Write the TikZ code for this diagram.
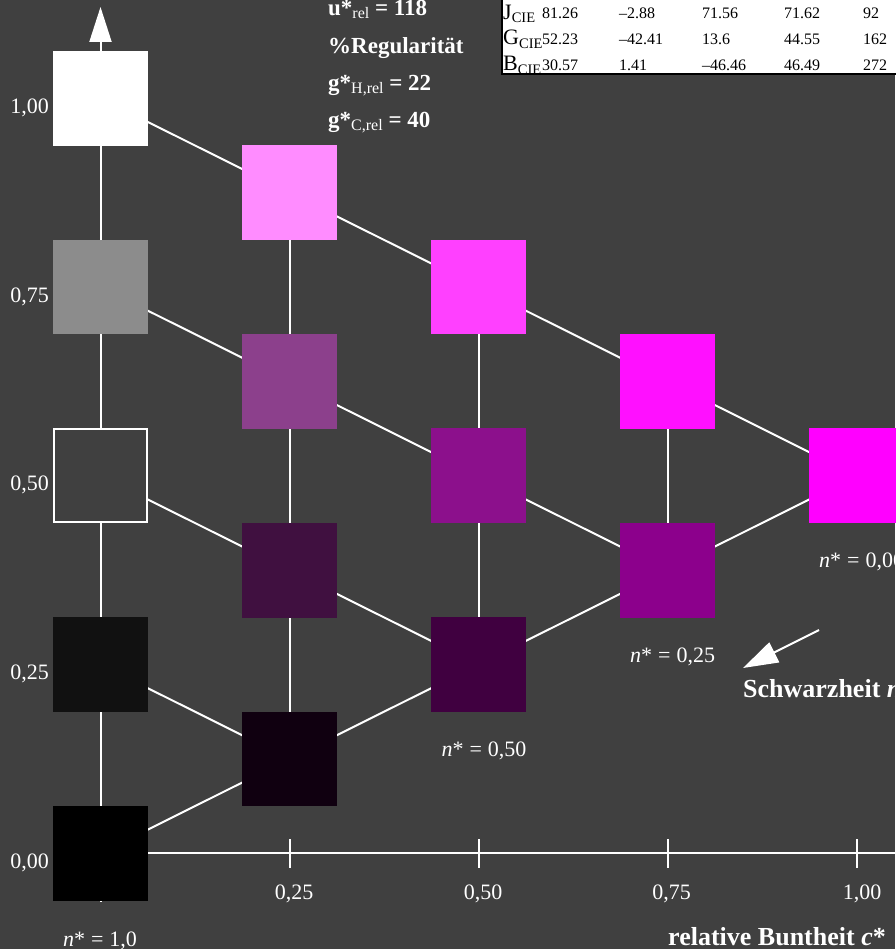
\documentclass[tikz,border=0pt]{standalone}
\usepackage{fontspec}
\setmainfont{Liberation Serif}
\usetikzlibrary{arrows.meta}
\pgfdeclarelayer{bglayer}
\pgfdeclarelayer{linelayer}
\pgfsetlayers{bglayer,linelayer,main}
\definecolor{bgc}{HTML}{404040}
\definecolor{k01}{HTML}{8C8C8C}
\definecolor{k03}{HTML}{111111}
\definecolor{k04}{HTML}{000000}
\definecolor{k10}{HTML}{FF8CFF}
\definecolor{k11}{HTML}{8C408C}
\definecolor{k12}{HTML}{401040}
\definecolor{k13}{HTML}{100010}
\definecolor{k20}{HTML}{FF40FF}
\definecolor{k21}{HTML}{8C108C}
\definecolor{k22}{HTML}{400040}
\definecolor{k30}{HTML}{FF10FF}
\definecolor{k31}{HTML}{8C008C}
\definecolor{k40}{HTML}{FF00FF}
\newcommand{\fsz}[1]{\fontsize{#1}{#1}\selectfont}
\newcommand{\lowsub}[1]{\raisebox{-3pt}{\fsz{16}\mdseries #1}}
\newcommand{\tabsub}[1]{\raisebox{-3.5pt}{\fsz{14.5}#1}}
\newcommand{\nstar}[1]{{\itshape n}*\hspace{6pt}=\hspace{6pt}#1}
\begin{document}
\begin{tikzpicture}[x=1pt,y=-1pt,
  sq/.style={rectangle, minimum size=94.7pt, inner sep=0pt, draw=none},
  wl/.style={white, line width=2pt},
  lab/.style={text=white, inner sep=0pt, font=\fsz{22}},
  blab/.style={text=white, inner sep=0pt, font=\fsz{26}\bfseries},
  tlab/.style={text=white, inner sep=0pt, font=\fsz{23}\bfseries, anchor=base west},
  tv/.style={text=black, inner sep=0pt, font=\fsz{16}, anchor=base west},
  tl/.style={text=black, inner sep=0pt, font=\fsz{22}, anchor=base west},
  bigtip/.style={-{Triangle[length=35pt,width=22pt]}}
]
\useasboundingbox (0,0) rectangle (895,949);
\begin{pgfonlayer}{bglayer}
  \fill[bgc] (0,0) rectangle (895,949);
\end{pgfonlayer}

% colour squares
\node[sq, fill=white] (n00) at (100.5,98.3) {};
\node[sq, fill=k01] (n01) at (100.5,287.05) {};
\node[sq, fill=bgc, draw=white, line width=2pt, minimum size=93pt] (n02) at (100.5,475.8) {};
\node[sq, fill=k03] (n03) at (100.5,664.55) {};
\node[sq, fill=k04] (n04) at (100.5,853.3) {};
\node[sq, fill=k10] (n10) at (289.5,192.7) {};
\node[sq, fill=k11] (n11) at (289.5,381.4) {};
\node[sq, fill=k12] (n12) at (289.5,570.2) {};
\node[sq, fill=k13] (n13) at (289.5,758.9) {};
\node[sq, fill=k20] (n20) at (478.5,287.05) {};
\node[sq, fill=k21] (n21) at (478.5,475.8) {};
\node[sq, fill=k22] (n22) at (478.5,664.55) {};
\node[sq, fill=k30] (n30) at (667.5,381.4) {};
\node[sq, fill=k31] (n31) at (667.5,570.2) {};
\node[sq, fill=k40] (n40) at (856.5,475.8) {};

% axis coordinates
\coordinate (ybot) at (100.5,902);
\coordinate (ytop) at (100.5,7);
\coordinate (xend) at (905,853.3);
\coordinate (t1a) at (289.5,839); \coordinate (t1b) at (289.5,868);
\coordinate (t2a) at (478.5,839); \coordinate (t2b) at (478.5,868);
\coordinate (t3a) at (667.5,839); \coordinate (t3b) at (667.5,868);
\coordinate (t4a) at (856.5,839); \coordinate (t4b) at (856.5,868);
\coordinate (sa) at (819,630);
\coordinate (sb) at (743,668);

\begin{pgfonlayer}{linelayer}
  \draw[wl, bigtip] (ybot) -- (ytop);
  \draw[wl] (n04.center) -- (xend);
  \draw[wl] (t1a) -- (t1b);
  \draw[wl] (t2a) -- (t2b);
  \draw[wl] (t3a) -- (t3b);
  \draw[wl] (t4a) -- (t4b);
  \draw[wl] (n10.center) -- (n13.center);
  \draw[wl] (n20.center) -- (n22.center);
  \draw[wl] (n30.center) -- (n31.center);
  \draw[wl] (n00.center) -- (n10.center) -- (n20.center) -- (n30.center) -- (n40.center);
  \draw[wl] (n01.center) -- (n11.center) -- (n21.center) -- (n31.center);
  \draw[wl] (n02.center) -- (n12.center) -- (n22.center);
  \draw[wl] (n03.center) -- (n13.center);
  \draw[wl] (n04.center) -- (n13.center) -- (n22.center) -- (n31.center) -- (n40.center);
\end{pgfonlayer}
\draw[wl, bigtip] (sa) -- (sb);

% axis labels
\node[lab, anchor=base east] (y100) at (49,113.3) {1,00};
\node[lab, anchor=base east] (y075) at (49,302) {0,75};
\node[lab, anchor=base east] (y050) at (49,490.8) {0,50};
\node[lab, anchor=base east] (y025) at (49,679.5) {0,25};
\node[lab, anchor=base east] (y000) at (49,868.3) {0,00};
\node[lab, anchor=base] (x025) at (294,899) {0,25};
\node[lab, anchor=base] (x050) at (483,899) {0,50};
\node[lab, anchor=base] (x075) at (671.5,899) {0,75};
\node[lab, anchor=base] (x100) at (862,899) {1,00};

\node[lab, anchor=base] (m10) at (100,946) {\nstar{1,0}};
\node[lab, anchor=base] (m050) at (484,756) {\nstar{0,50}};
\node[lab, anchor=base west] (m025) at (630,662) {\nstar{0,25}};
\node[lab, anchor=base west] (m000) at (819,567) {\nstar{0,00}};

\node[blab, anchor=base west] (schw) at (743,697) {Schwarzheit \textit{n}*};
\node[blab, anchor=base west] (bunt) at (668,945) {relative Buntheit \textit{c}*};

% top-left texts
\node[tlab] (u1) at (328,16) {u*\lowsub{rel} = 118};
\node[tlab] (u2) at (328,54) {\%Regularität};
\node[tlab] (u3) at (328,91) {g*\lowsub{H,rel} = 22};
\node[tlab] (u4) at (328,128) {g*\lowsub{C,rel} = 40};

% table
\fill[white] (502,-5) rectangle (900,74);
\draw[black, line width=1.5pt] (502,-5) -- (502,74) -- (900,74);
\node[tl] (lj) at (503,19.5) {J\tabsub{CIE}};
\node[tl] (lg) at (503,45) {G\tabsub{CIE}};
\node[tl] (lb) at (503,71) {B\tabsub{CIE}};
\node[tv] (j1) at (542,19) {81.26};
\node[tv] (j2) at (619,19) {–2.88};
\node[tv] (j3) at (702,19) {71.56};
\node[tv] (j4) at (784,19) {71.62};
\node[tv] (j5) at (863,19) {92};
\node[tv] (g1) at (542,44.5) {52.23};
\node[tv] (g2) at (619,44.5) {–42.41};
\node[tv] (g3) at (702,44.5) {13.6};
\node[tv] (g4) at (784,44.5) {44.55};
\node[tv] (g5) at (863,44.5) {162};
\node[tv] (b1) at (542,70.5) {30.57};
\node[tv] (b2) at (619,70.5) {1.41};
\node[tv] (b3) at (702,70.5) {–46.46};
\node[tv] (b4) at (784,70.5) {46.49};
\node[tv] (b5) at (863,70.5) {272};
\end{tikzpicture}
\end{document}
